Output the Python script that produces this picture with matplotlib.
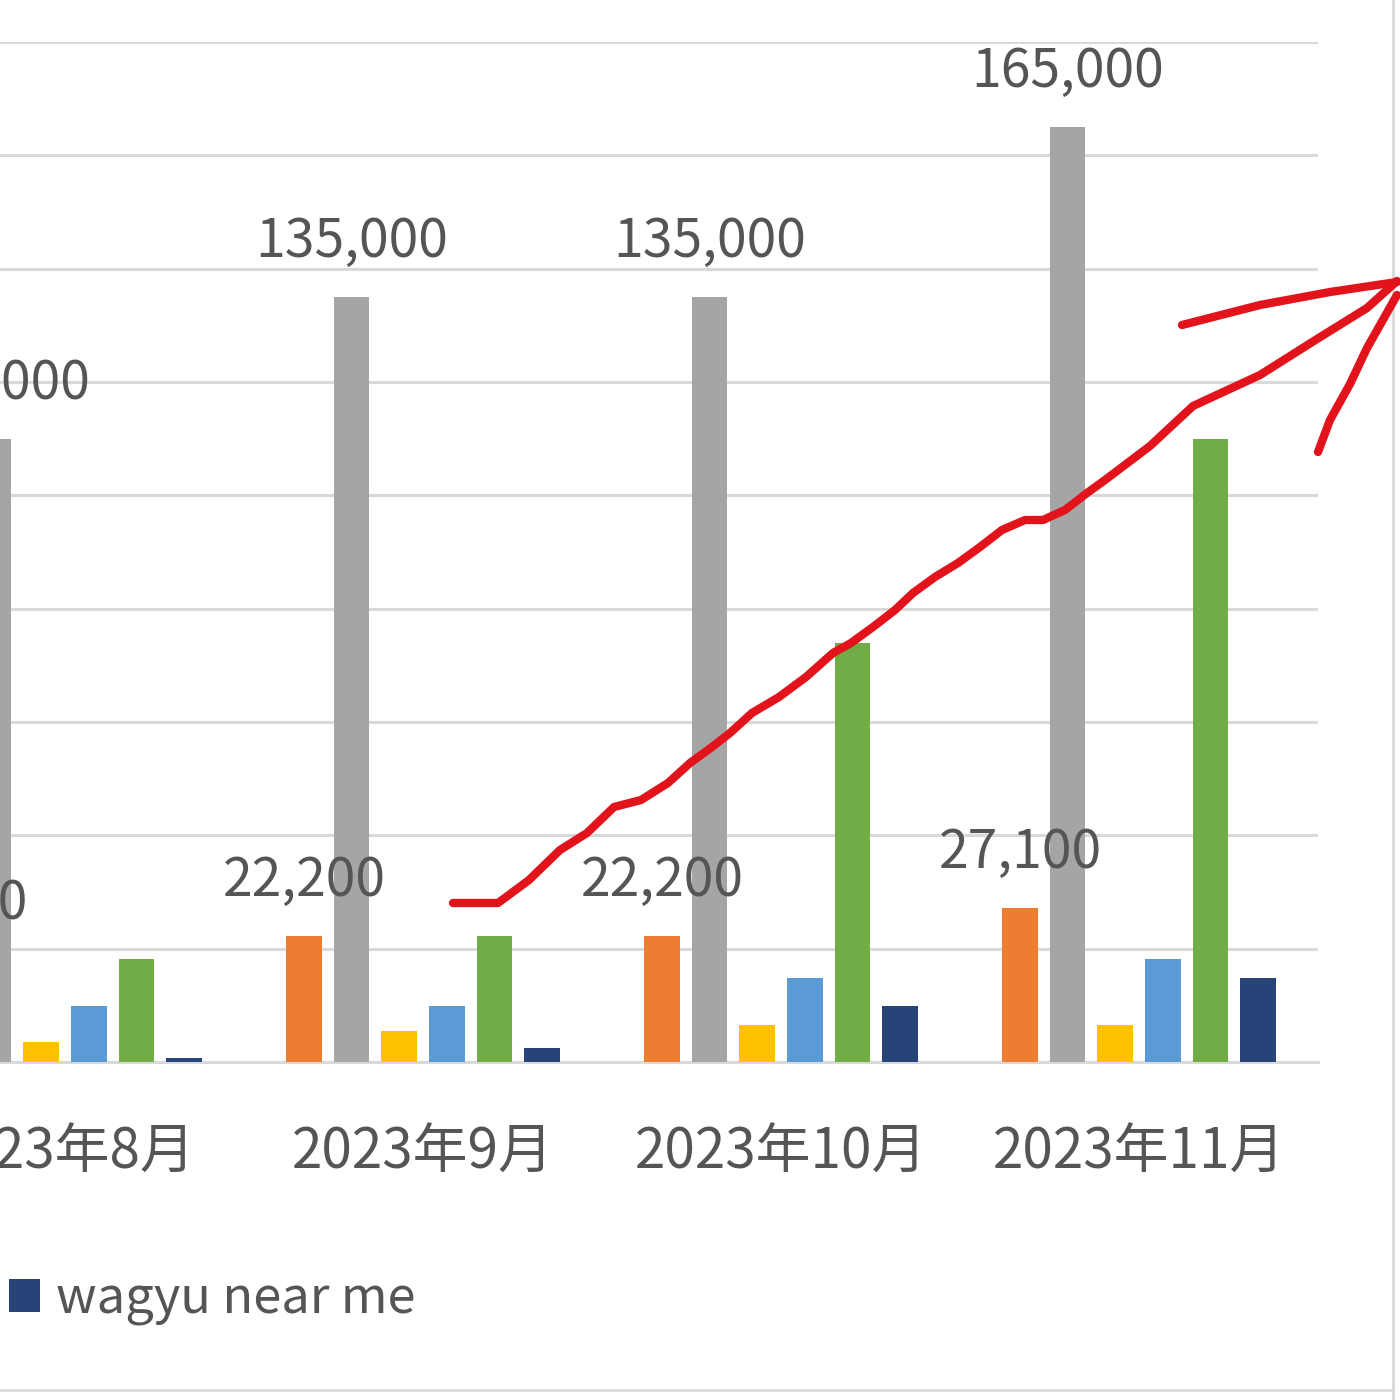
import matplotlib
matplotlib.use("Agg")
import matplotlib.pyplot as plt
from matplotlib.patches import Patch
from matplotlib.lines import Line2D
import numpy as np

plt.rcParams['font.family'] = ['Noto Sans CJK JP', 'DejaVu Sans']

# data (monthly search volume)
months = ['2023年8月', '2023年9月', '2023年10月', '2023年11月']
s_orange = [18100, 22200, 22200, 27100]
s_gray = [110000, 135000, 135000, 165000]
s_yellow = [3600, 5400, 6600, 6600]
s_blue = [9900, 9900, 14800, 18100]
s_green = [18100, 22200, 74000, 110000]
s_navy = [720, 2400, 9900, 14800]
legend_label = 'wagyu near me'

series = [s_orange, s_gray, s_yellow, s_blue, s_green, s_navy]
colors = ['#ED7D31', '#A5A5A5', '#FFC000', '#5B9BD5', '#70AD47', '#264478']
labelled = [True, True, False, False, False, False]

TEXT = '#555555'
GRID = '#d9d9d9'
W = 1400.0

fig = plt.figure(figsize=(14, 14), dpi=100)
# the screenshot is cropped: plot area starts left of the image
ax = fig.add_axes([-114 / W, 1 - 1062 / W, 1432 / W, 1020 / W])

x = np.arange(len(months))
step = 0.133
width = 0.1
for i, (vals, c) in enumerate(zip(series, colors)):
    pos = x + (i - 2.5) * step
    ax.bar(pos, vals, width=width, color=c, zorder=3)
    if labelled[i]:
        for px, v in zip(pos, vals):
            ax.annotate(f'{v:,}', (px, v), xytext=(0, 29), textcoords='offset points',
                        ha='center', va='baseline', fontsize=38.5, color=TEXT, zorder=4)

ax.set_xlim(-0.5, len(months) - 0.5)
ax.set_ylim(0, 180000)
ax.set_yticks(np.arange(0, 180001, 20000))
ax.yaxis.grid(True, color=GRID, linewidth=2.2, zorder=0)
ax.tick_params(axis='y', left=False, labelleft=False)
ax.set_xticks(x)
ax.set_xticklabels(months, fontsize=39.5, color=TEXT)
ax.tick_params(axis='x', length=0, pad=45)
for s in ['left', 'right', 'top']:
    ax.spines[s].set_visible(False)
ax.spines['bottom'].set_color(GRID)
ax.spines['bottom'].set_linewidth(2.2)

# legend (only the last entry is inside the crop)
fig.legend(handles=[Patch(facecolor=colors[-1])], labels=[legend_label],
           loc='center left', bbox_to_anchor=(9 / W, 1 - 1300 / W),
           frameon=False, fontsize=36.5, labelcolor=TEXT,
           handlelength=0.62, handleheight=0.62, handletextpad=0.3,
           borderpad=0, borderaxespad=0)

# chart area border of the spreadsheet object
fig.add_artist(Line2D([1393 / W, 1393 / W], [0, 1], transform=fig.transFigure,
                      color=GRID, linewidth=2))
fig.add_artist(Line2D([0, 1393 / W], [1 - 1390 / W, 1 - 1390 / W], transform=fig.transFigure,
                      color=GRID, linewidth=2))

# hand drawn red arrow (pixel coords of the screenshot)
shaft = [(453, 903), (498, 903), (529, 880), (560, 850), (587, 833), (614, 807),
         (641, 800), (668, 783), (690, 763), (712, 747), (730, 733), (752, 713),
         (779, 697), (806, 677), (833, 653), (851, 643), (873, 627), (895, 610),
         (913, 593), (935, 577), (958, 563), (980, 547), (1002, 530), (1025, 520),
         (1043, 520), (1065, 510), (1087, 493), (1105, 480), (1150, 446),
         (1193, 406), (1260, 375), (1317, 339), (1367, 308), (1397, 281)]
barb_top = [(1182, 325), (1260, 305), (1330, 292), (1397, 282)]
barb_low = [(1318, 452), (1330, 420), (1350, 384), (1367, 348), (1397, 295)]
for path in (shaft, barb_top, barb_low):
    px = [p[0] / W for p in path]
    py = [1 - p[1] / W for p in path]
    fig.add_artist(Line2D(px, py, transform=fig.transFigure, color='#E3131B',
                          linewidth=6, solid_capstyle='round', solid_joinstyle='round',
                          zorder=10))

fig.savefig('out.png', dpi=100, facecolor='white')
